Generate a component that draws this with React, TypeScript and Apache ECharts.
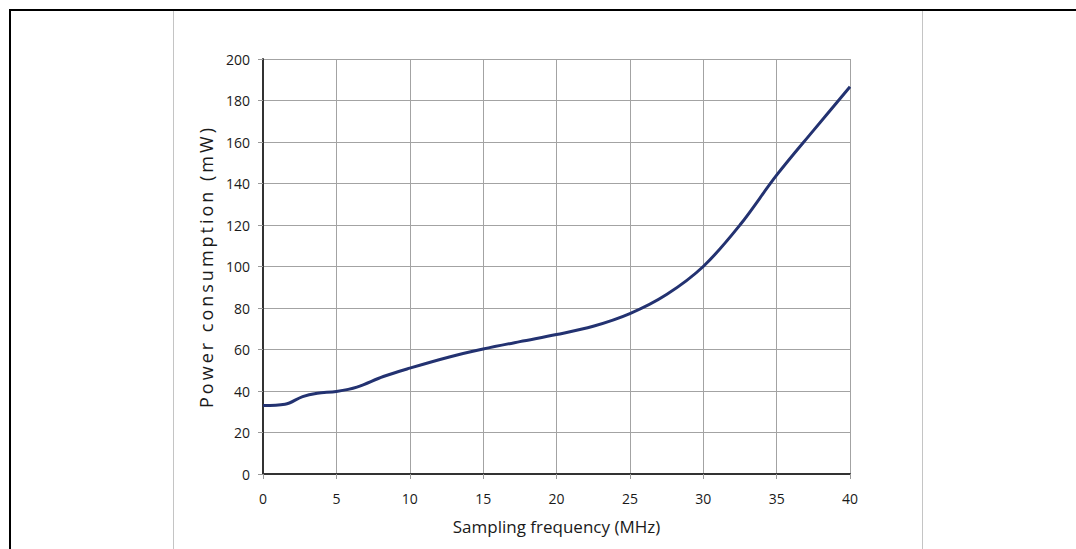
import React, { useEffect, useRef } from "react";
import * as echarts from "echarts";

const frequencyMHz = [0, 1.5, 2.7, 3.7, 5, 6.4, 8.2, 10, 12.7, 15, 17.5, 20, 22.5, 25, 27.5, 30, 32.5, 35, 37.5, 40];
const powerMW = [33, 33.6, 37.3, 38.9, 39.8, 41.9, 47, 51, 56.4, 60.2, 63.8, 67.2, 71.2, 77.3, 86.5, 100, 120, 144, 165.5, 186.6];
const xAxisMin = 0;
const xAxisMax = 40;
const xAxisStep = 5;
const yAxisMin = 0;
const yAxisMax = 200;
const yAxisStep = 20;
const xAxisTitle = "Sampling frequency (MHz)";
const yAxisTitle = "Power consumption (mW)";

export default function App() {
  const ref = useRef<HTMLDivElement>(null);
  useEffect(() => {
    if (!ref.current) return;
    const chart = echarts.init(ref.current, null, { renderer: "svg" });
    const font = "'Open Sans', 'DejaVu Sans', sans-serif";
    chart.setOption({
      animation: false,
      backgroundColor: "#ffffff",
      grid: { left: 263, right: 226, top: 59, bottom: 75, containLabel: false },
      graphic: [
        { type: "line", shape: { x1: 173.5, y1: 11, x2: 173.5, y2: 549 }, style: { stroke: "#c4c4c4", lineWidth: 1 }, silent: true },
        { type: "line", shape: { x1: 922.5, y1: 11, x2: 922.5, y2: 549 }, style: { stroke: "#c4c4c4", lineWidth: 1 }, silent: true },
        { type: "line", shape: { x1: 10, y1: 10, x2: 1076, y2: 10 }, style: { stroke: "#000000", lineWidth: 2 }, silent: true },
        { type: "line", shape: { x1: 10, y1: 9, x2: 10, y2: 549 }, style: { stroke: "#000000", lineWidth: 2 }, silent: true },
      ],
      xAxis: {
        type: "value",
        min: xAxisMin,
        max: xAxisMax,
        interval: xAxisStep,
        name: xAxisTitle,
        nameLocation: "middle",
        nameGap: 44,
        nameTextStyle: { fontFamily: font, fontSize: 17, color: "#1a1a1a" },
        axisLine: { show: true, onZero: false, lineStyle: { color: "#333", width: 2 } },
        axisTick: { show: true, length: 5, lineStyle: { color: "#999", width: 1 } },
        axisLabel: { fontFamily: font, fontSize: 14, color: "#1a1a1a", margin: 17 },
        splitLine: { show: true, lineStyle: { color: "#a3a3a3", width: 1 } },
      },
      yAxis: {
        type: "value",
        min: yAxisMin,
        max: yAxisMax,
        interval: yAxisStep,
        name: yAxisTitle,
        nameLocation: "middle",
        nameGap: 46,
        nameRotate: 90,
        nameTextStyle: { fontFamily: font, fontSize: 18, color: "#1a1a1a" },
        axisLine: { show: true, onZero: false, lineStyle: { color: "#333", width: 2 } },
        axisTick: { show: true, length: 5, lineStyle: { color: "#999", width: 1 } },
        axisLabel: { fontFamily: font, fontSize: 14, color: "#1a1a1a", margin: 13 },
        splitLine: { show: true, lineStyle: { color: "#a3a3a3", width: 1 } },
      },
      series: [
        {
          type: "line",
          data: frequencyMHz.map((f, i) => [f, powerMW[i]]),
          showSymbol: false,
          smooth: 0.35,
          lineStyle: { color: "#233271", width: 3 },
        },
      ],
    });
    const spaceOut = () => {
      const texts = ref.current?.querySelectorAll("text") || [];
      texts.forEach((t) => {
        if (t.textContent === yAxisTitle) {
          (t as SVGTextElement).style.letterSpacing = "3px";
        }
      });
    };
    spaceOut();
    chart.on("finished", spaceOut);
    return () => chart.dispose();
  }, []);
  return <div ref={ref} style={{ position: "absolute", left: 0, top: 0, width: 1076, height: 549 }} />;
}
